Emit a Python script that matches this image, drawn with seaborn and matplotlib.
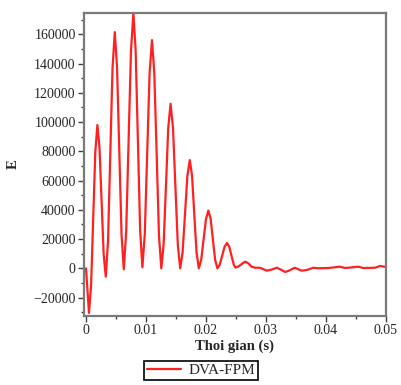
import numpy as np
import pandas as pd
import matplotlib.pyplot as plt
import seaborn as sns
from matplotlib.ticker import MultipleLocator

# ── Data ─────────────────────────────────
t = [0, 0.00025, 0.0005, 0.00085, 0.0012, 0.00155, 0.0019,
     0.00225, 0.0026, 0.00295, 0.0033,
     0.003675, 0.00405, 0.004425, 0.0048,
     0.005175, 0.00555, 0.005925, 0.0063,
     0.0067, 0.0071, 0.0075, 0.0079,
     0.008275, 0.00865, 0.009025, 0.0094,
     0.0098, 0.0102, 0.0106, 0.0110,
     0.01139, 0.01178, 0.01216, 0.01255,
     0.01294, 0.01333, 0.01371, 0.0141,
     0.0145, 0.0149, 0.0153, 0.0157,
     0.0161, 0.0165, 0.0169, 0.0173,
     0.01768, 0.01805, 0.01843, 0.0188,
     0.0192, 0.0196, 0.0200, 0.0204,
     0.02078, 0.02115, 0.02153, 0.0219,
     0.0223, 0.0227, 0.0231, 0.0235,
     0.02388, 0.02425, 0.02463, 0.0249,
     0.0254, 0.0258, 0.0262, 0.0266,
     0.0271, 0.0276, 0.0282, 0.0290, 0.0301, 0.0307, 0.0318, 0.0323,
     0.0332, 0.0337, 0.0348, 0.0359, 0.0368, 0.0379, 0.0387, 0.0404,
     0.0423, 0.0432, 0.0454, 0.0462, 0.0482, 0.0490, 0.0497, 0.0500]
E = [0, -15000, -30500, -11700, 33750, 79200, 98000,
     82860, 46150, 9440, -5700,
     18700, 77900, 137100, 161500,
     137800, 80400, 23000, -700,
     24900, 86900, 148900, 174500,
     149100, 87600, 26100, 700,
     23400, 78350, 133300, 156000,
     133200, 78000, 22800, 0,
     16400, 56250, 96100, 112500,
     96100, 56250, 16400, 0,
     10800, 37000, 63200, 74000,
     63200, 37000, 10800, 0,
     5770, 19750, 33730, 39500,
     33730, 19750, 5770, 0,
     2530, 8650, 14770, 17300,
     14770, 8650, 2530, 500,
     1300, 2400, 3800, 4500,
     3200, 1100, 400, 400, -1600, -1150, 400, -500,
     -2500, -1850, 400, -1600, -1150, 400, 0, 200,
     1100, 200, 1100, 200, 400, 1600, 1100, 900]

df = pd.DataFrame({"t": t, "E": E})

sns.set_style("ticks")
plt.rcParams["font.family"] = ["Liberation Serif", "DejaVu Serif"]

fig = plt.figure(figsize=(4.02, 3.85), dpi=100)
ax = fig.add_axes([84 / 402, 1 - 315.7 / 385, (386 - 84) / 402, (315.7 - 12.5) / 385])

sns.lineplot(data=df, x="t", y="E", ax=ax, color="#ff2020", linewidth=1.6,
             label="DVA-FPM", legend=False)

ax.yaxis.set_major_locator(MultipleLocator(20000))
ax.yaxis.set_minor_locator(MultipleLocator(10000))
ax.xaxis.set_minor_locator(MultipleLocator(0.005))
ax.set_xticks([0, 0.01, 0.02, 0.03, 0.04, 0.05])
ax.set_xticklabels(["0", "0.01", "0.02", "0.03", "0.04", "0.05"])
ax.set_xlim(-0.00033, 0.05)
ax.set_ylim(-32400, 174900)

ax.tick_params(which="major", direction="out", length=4, width=1, color="#404040",
               labelsize=10, pad=2)
ax.tick_params(which="minor", direction="out", length=2.5, width=1, color="#404040")

for s in ax.spines.values():
    s.set_color("#7a7a7a")
    s.set_linewidth(1.6)

ax.set_xlabel("Thoi gian (s)", fontsize=10.5, fontweight="bold", labelpad=2)
ax.set_ylabel("E", fontsize=10.5, fontweight="bold", labelpad=10)

leg = fig.legend(loc="upper center", bbox_to_anchor=(0.5, 1 - 353 / 385),
                 frameon=True, fancybox=False, edgecolor="black", framealpha=1,
                 fontsize=11, handlelength=2.2, borderpad=0.2, handletextpad=0.5)
leg.get_frame().set_linewidth(1.2)

plt.savefig("out.png", dpi=100)
